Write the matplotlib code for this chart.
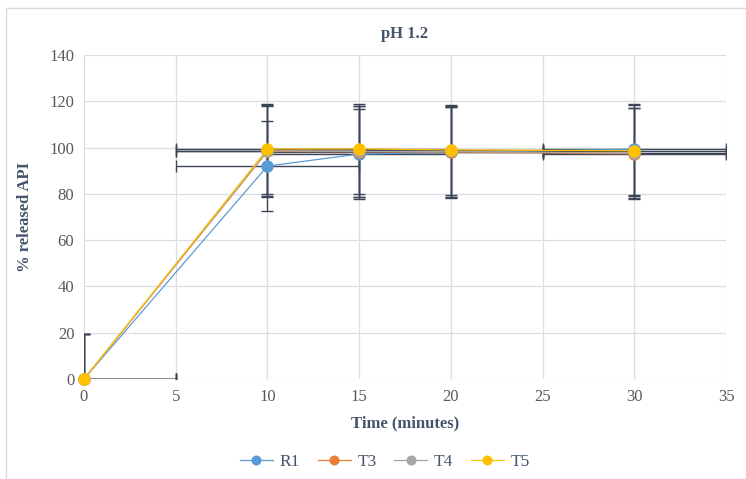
import matplotlib.pyplot as plt
from matplotlib.patches import Rectangle

plt.rcParams["font.family"] = ["Liberation Serif", "DejaVu Serif"]

# data
time = [0, 10, 15, 20, 30]
r1 = [0, 92.0, 97.2, 98.0, 99.3]
t3 = [0, 98.3, 98.2, 98.1, 97.3]
t4 = [0, 98.6, 98.3, 98.3, 97.6]
t5 = [0, 99.4, 99.4, 99.0, 98.6]
yerr = 19.6
xerr = 5

series = [("R1", r1, "#5B9BD5"), ("T3", t3, "#ED7D31"),
          ("T4", t4, "#A5A5A5"), ("T5", t5, "#FFC000")]

fig = plt.figure(figsize=(7.46, 4.79), dpi=100)
ax = fig.add_axes([0.1126, 0.2088, 0.8606, 0.6764])

text_col = "#44546A"
tick_col = "#595959"

for name, vals, col in series:
    ax.errorbar(time, vals, yerr=yerr, xerr=xerr, fmt="none",
                ecolor="#3B4556", elinewidth=1.0, capsize=4, capthick=1.0,
                zorder=3)
    ax.plot(time, vals, color=col, lw=0.9, marker="o", markersize=9,
            markeredgewidth=0, label=name, zorder=4, clip_on=False)

ax.set_xlim(0, 35)
ax.set_ylim(0, 140)
ax.set_xticks(range(0, 36, 5))
ax.set_yticks(range(0, 141, 20))
ax.grid(True, color="#D9DEE5", lw=0.9)
ax.set_axisbelow(True)
for s in ax.spines.values():
    s.set_visible(False)
ax.tick_params(length=0, labelsize=12, colors=tick_col, pad=7)

ax.set_title("pH 1.2", fontsize=12, fontweight="bold", color=text_col, pad=12)
ax.set_xlabel("Time (minutes)", fontsize=12, fontweight="bold", color=text_col, labelpad=8)
ax.set_ylabel("% released API", fontsize=12, fontweight="bold", color=text_col, labelpad=12)

leg = fig.legend(loc="center", bbox_to_anchor=(0.516, 0.036), ncol=4, frameon=False,
                 fontsize=12.5, handlelength=1.9, columnspacing=1.0, handletextpad=0.4,
                 markerscale=0.8)
for t in leg.get_texts():
    t.set_color(text_col)

fig.patches.append(Rectangle((6 / 746, 0.0), 1.2, 1 - 8 / 479, transform=fig.transFigure,
                             fill=False, edgecolor="#D9D9D9", lw=1))

fig.savefig("out.png", dpi=100)
